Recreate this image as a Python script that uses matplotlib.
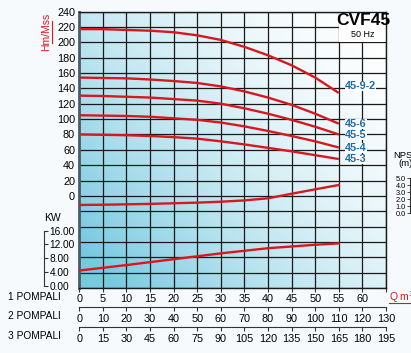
import matplotlib
matplotlib.use("Agg")
import matplotlib.pyplot as plt
import numpy as np
from matplotlib.lines import Line2D
from matplotlib.patches import Rectangle

plt.rcParams["font.family"] = ["Liberation Sans", "DejaVu Sans"]

# ── data ─────────────────────────────────────────────────────────────────────
q_pts = [0, 5, 10, 15, 20, 25, 30, 35, 40, 45, 50, 55]          # m3/h, 1 pump

head_45_9_2 = [217, 217, 216, 215, 213, 209, 203, 194, 183, 170, 154, 134]
head_45_6 = [154, 153.5, 153, 151.5, 149.5, 147, 142.5, 136, 128, 118.5, 107, 94]
head_45_5 = [130.5, 130, 129, 128, 126, 124, 120, 114, 107, 99, 90, 80]
head_45_4 = [105, 104.5, 104, 103, 101, 99, 95.5, 90.5, 84.5, 78, 71, 63]
head_45_3 = [80, 79.5, 79, 78, 76.5, 74.5, 71, 67, 62.5, 58, 53, 48]

npsh_m = [1.15, 1.18, 1.24, 1.30, 1.39, 1.48, 1.61, 1.80, 2.10, 2.75, 3.38, 4.0]
power_kw = [4.4, 5.2, 6.0, 6.85, 7.7, 8.55, 9.4, 10.15, 10.9, 11.4, 11.9, 12.3]

curve_names = ["45-9-2", "45-6", "45-5", "45-4", "45-3"]
label_heads = [143, 93.6, 79.3, 62.4, 48.1]

q1_ticks = list(range(0, 66, 5))
q1_labels = [str(v) for v in range(0, 61, 5)] + [""]
q2_ticks = list(range(0, 131, 10))
q3_ticks = list(range(0, 196, 15))
head_ticks = list(range(-120, 241, 20))
head_labels = ["" if v < 0 else str(v) for v in head_ticks]
kw_ticks = [0, 4, 8, 12, 16]
npsh_ticks = [0, 1, 2, 3, 4, 5]

RED = "#d8181f"
BLUE = "#1c6aa6"
DARK = "#1a1a1a"
FS = 7.8

# ── figure ──────────────────────────────────────────────────────────────────
fig = plt.figure(figsize=(4.11, 3.53), dpi=100, facecolor="#f6fafc")
W, H = 411, 353
x0, x1, y0, y1 = 79.2, 386.0, 11.5, 288.1
ax = fig.add_axes([x0 / W, 1 - y1 / H, (x1 - x0) / W, (y1 - y0) / H])
ax.set_xlim(0, 65)
ax.set_ylim(-120, 240)

# diagonal blue-to-white gradient
nx, ny = 300, 300
xf, yf = np.meshgrid(np.linspace(0, 1, nx), np.linspace(0, 1, ny))
s = np.clip(0.62 * (1 - xf) + 0.45 * (1 - yf), 0, 1) ** 1.7
blue = np.array([0.47, 0.79, 0.88])
rgb = 1 - s[..., None] * (1 - blue)
ax.imshow(rgb, extent=(0, 65, -120, 240), origin="lower", aspect="auto", zorder=0)

ax.set_axisbelow(True)
ax.set_xticks(q1_ticks)
ax.set_xticklabels(q1_labels)
ax.set_yticks(head_ticks)
ax.set_yticklabels(head_labels)
ax.grid(True, color=DARK, linewidth=0.9)
ax.tick_params(axis="y", length=0, pad=3, labelsize=FS)
ax.tick_params(axis="x", length=3, width=0.8, pad=1.5, labelsize=FS, color="#333333")
for side in ["top", "right", "bottom"]:
    ax.spines[side].set_color(DARK)
    ax.spines[side].set_linewidth(1)
ax.spines["left"].set_color("#4d5b63")
ax.spines["left"].set_linewidth(2)

# title box
ax.add_patch(Rectangle((55, 200.5), 10, 39.5, facecolor="white", edgecolor="none", zorder=0.8))
ax.text(60.1, 228.5, "CVF45", ha="center", va="center", fontsize=12.5, fontweight="bold", zorder=3)
ax.text(60.1, 209.5, "50 Hz", ha="center", va="center", fontsize=6.5, zorder=3)

for heads in [head_45_9_2, head_45_6, head_45_5, head_45_4, head_45_3]:
    ax.plot(q_pts, heads, color=RED, linewidth=1.7, solid_capstyle="butt", zorder=2)

for name, hy in zip(curve_names, label_heads):
    ax.text(56.3, hy, name, color=BLUE, fontsize=7.8, fontweight="bold", ha="left", va="center",
            zorder=3, bbox=dict(facecolor="white", edgecolor="none", pad=0.2))

# second and third pump rows
sec2 = ax.secondary_xaxis((y1 - 307.3) / (y1 - y0), functions=(lambda x: 2 * x, lambda x: x / 2))
sec2.set_xticks(q2_ticks)
sec3 = ax.secondary_xaxis((y1 - 327.3) / (y1 - y0), functions=(lambda x: 3 * x, lambda x: x / 3))
sec3.set_xticks(q3_ticks)
for sec in (sec2, sec3):
    sec.tick_params(length=3, width=0.8, pad=1.5, labelsize=FS, color="#333333")
    sec.spines["bottom"].set_color("#333333")

# KW axis
ax_kw = ax.twinx()
ax_kw.set_ylim((y1 - 285.7) / -3.44, (285.7 - y0) / 3.44)
ax_kw.plot(q_pts, power_kw, color=RED, linewidth=1.7, zorder=2)
for side in ["top", "left", "bottom"]:
    ax_kw.spines[side].set_visible(False)
ax_kw.spines["right"].set_position(("axes", (44 - x0) / (x1 - x0)))
ax_kw.spines["right"].set_bounds(0, 16)
ax_kw.spines["right"].set_color("#333333")
ax_kw.set_yticks(kw_ticks)
ax_kw.set_yticklabels([f"{v:.2f}" for v in kw_ticks])
ax_kw.tick_params(axis="y", length=3, width=0.8, pad=1, labelsize=7.3, color="#333333")
ax_kw.patch.set_visible(False)

# NPSH axis
ax_np = ax.twinx()
ax_np.set_ylim((213 - y1) / 7, (213 - y0) / 7)
ax_np.plot(q_pts, npsh_m, color=RED, linewidth=1.7, zorder=2)
for side in ["top", "right", "bottom"]:
    ax_np.spines[side].set_visible(False)
ax_np.yaxis.tick_left()
ax_np.spines["left"].set_position(("axes", (410 - x0) / (x1 - x0)))
ax_np.spines["left"].set_bounds(0, 5)
ax_np.spines["left"].set_color("#333333")
ax_np.set_yticks(npsh_ticks)
ax_np.set_yticklabels([f"{v:.1f}" for v in npsh_ticks])
ax_np.tick_params(axis="y", length=2, width=0.6, pad=1, labelsize=5.3, color="#333333")
ax_np.patch.set_visible(False)

# free labels
fig.text(393 / W, 1 - 155 / H, "NPSH", fontsize=6.8, ha="left", va="center")
fig.text(398 / W, 1 - 163 / H, "(m)", fontsize=6.8, ha="left", va="center")
fig.text(44 / W, 1 - 218 / H, "KW", fontsize=7.5, ha="left", va="center")
for i, yy in enumerate([297, 316, 336]):
    fig.text(8 / W, 1 - yy / H, f"{i + 1} POMPALI", fontsize=7.3, ha="left", va="center")

fig.text(46.5 / W, 1 - 31.5 / H, "Hm/Mss", fontsize=7.5, color=RED, rotation=90, ha="center", va="center")
fig.add_artist(Line2D([52 / W, 52 / W], [1 - 43 / H, 1 - 20.5 / H], color=RED, linewidth=0.8))
fig.text(388.5 / W, 1 - 297 / H, "Q m$^3$/h", fontsize=7.5, color=RED, ha="left", va="center")
fig.add_artist(Line2D([388.5 / W, 1.0], [1 - 302.5 / H, 1 - 302.5 / H], color=RED, linewidth=0.8))

fig.savefig("out.png", dpi=100, facecolor=fig.get_facecolor())
